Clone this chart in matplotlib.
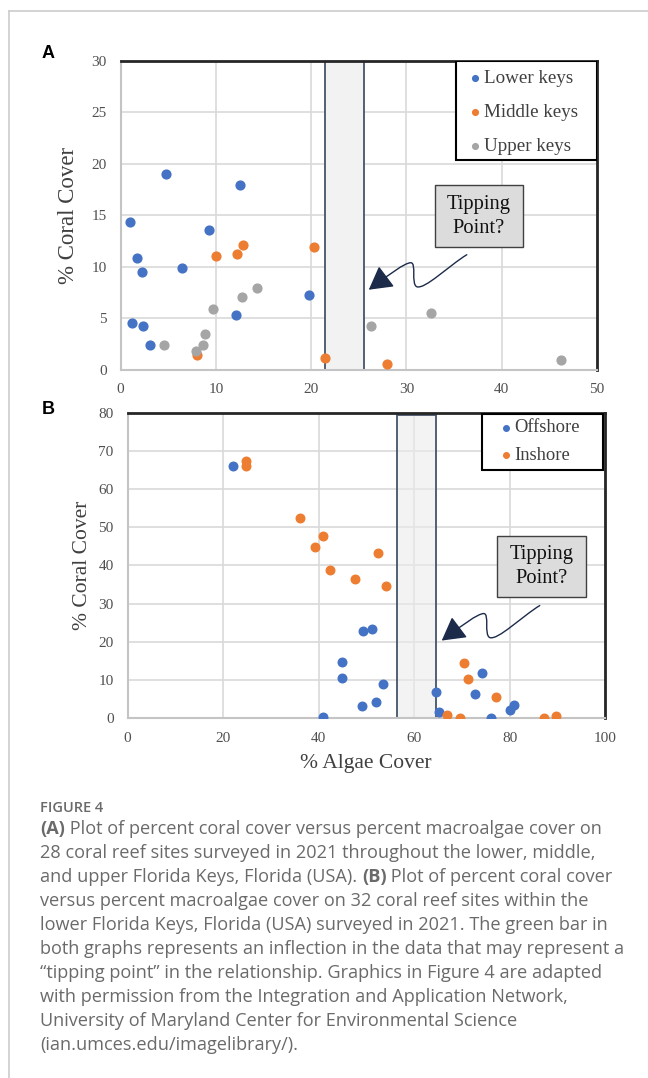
import matplotlib
matplotlib.use('Agg')
import matplotlib.pyplot as plt
from matplotlib.patches import Rectangle, FancyArrowPatch
from matplotlib.path import Path
from matplotlib.lines import Line2D
import numpy as np

# Panel A: coral cover vs algae cover by region of the Keys
lower_x = [4.8, 12.5, 1.0, 9.3, 1.7, 2.3, 6.4, 19.8, 12.1, 1.2, 2.4, 3.1]
lower_y = [19.0, 17.9, 14.3, 13.6, 10.8, 9.5, 9.9, 7.2, 5.3, 4.5, 4.2, 2.4]
middle_x = [10.0, 12.2, 12.9, 20.3, 8.05, 21.5, 28.0]
middle_y = [11.0, 11.2, 12.1, 11.9, 1.4, 1.1, 0.5]
upper_x = [4.6, 7.9, 8.65, 8.9, 9.7, 12.7, 14.3, 26.3, 32.6, 46.2]
upper_y = [2.4, 1.85, 2.4, 3.5, 5.9, 7.1, 7.95, 4.2, 5.5, 0.9]
tip_a = (21.5, 25.5)

# Panel B: offshore vs inshore sites
off_x = [22.0, 49.3, 51.3, 44.9, 44.9, 53.6, 52.0, 49.0, 40.9, 64.5, 65.3, 74.2, 72.8,
         76.2, 80.1, 80.9]
off_y = [66.1, 22.9, 23.4, 14.8, 10.4, 8.8, 4.1, 3.2, 0.35, 6.7, 1.6, 11.9, 6.4,
         0.0, 2.0, 3.3]
in_x = [24.9, 24.9, 36.1, 40.9, 39.3, 52.4, 42.4, 47.7, 54.1, 66.8, 69.6, 70.5, 71.2,
        77.2, 87.2, 89.8]
in_y = [67.4, 66.0, 52.4, 47.7, 44.8, 43.4, 38.8, 36.5, 34.5, 0.8, 0.0, 14.4, 10.1,
        5.6, 0.0, 0.5]
tip_b = (56.5, 64.5)

BLUE = '#4472C4'
ORANGE = '#ED7D31'
GRAY = '#A5A5A5'
SERIF = 'Liberation Serif'

fig = plt.figure(figsize=(6.48, 10.78), dpi=100)
axA = fig.add_axes([0.186, 0.6572, 0.7353, 0.2862])
axB = fig.add_axes([0.1968, 0.3340, 0.7369, 0.2829])


def style_axes(ax, xmax, xstep, ymax, ystep):
    ax.set_xlim(0, xmax)
    ax.set_ylim(0, ymax)
    ax.set_xticks(np.arange(0, xmax + 1, xstep))
    ax.set_yticks(np.arange(0, ymax + 1, ystep))
    ax.grid(True, color='#d9d9d9', lw=1.2, zorder=0)
    ax.set_axisbelow(True)
    ax.tick_params(length=0, labelsize=11, labelcolor='#505050', pad=10)
    for lab in ax.get_xticklabels() + ax.get_yticklabels():
        lab.set_family(SERIF)
    for s in ['top', 'right']:
        ax.spines[s].set_color('#262626')
        ax.spines[s].set_linewidth(2)
    for s in ['left', 'bottom']:
        ax.spines[s].set_color('#c4c4c4')
        ax.spines[s].set_linewidth(1.5)


def legend_box(ax, x0, x1, y0, y1, anchor, size, spacing):
    # excel-like legend: plain black box, small dots
    ax.add_patch(Rectangle((x0, y0), x1 - x0, y1 - y0, transform=ax.transAxes,
                           facecolor='white', edgecolor='black', lw=1.5, zorder=5))
    leg = ax.legend(loc='upper left', bbox_to_anchor=anchor, borderaxespad=0,
                    borderpad=0, prop={'family': SERIF, 'size': size}, frameon=False,
                    markerscale=0.65, handlelength=0.6, handletextpad=0.15,
                    labelspacing=spacing)
    leg.set_zorder(6)
    for t in leg.get_texts():
        t.set_color('#404040')


def squiggle(ax, tip):
    # arrow shape in pixel offsets from the tip (image y pointing down)
    offs = [(98, -35), (80, -24), (56, 0), (48, -3),
            (42, -6), (48, -27), (42, -27),
            (36, -27), (20, -15), (0, 0)]
    tx, ty = ax.transData.transform(tip)
    verts = [(tx + dx, ty - dy) for dx, dy in offs]
    codes = [Path.MOVETO] + [Path.CURVE4] * 9
    arr = FancyArrowPatch(path=Path(verts, codes), transform=None,
                          arrowstyle='-|>,head_length=0.8,head_width=0.45',
                          mutation_scale=18, color='#1c2b4a', lw=1.0, zorder=6)
    fig.add_artist(arr)


def tip_box(ax, x0, x1, y0, y1):
    ax.add_patch(Rectangle((x0, y0), x1 - x0, y1 - y0, transform=ax.transAxes,
                           facecolor='#dcdcdc', edgecolor='#404040', lw=1.0, zorder=5))
    ax.text((x0 + x1) / 2, (y0 + y1) / 2, 'Tipping\nPoint?', transform=ax.transAxes,
            ha='center', va='center', family=SERIF, fontsize=14.8, color='#111111',
            linespacing=1.35, zorder=6)


# ---- Panel A ----
style_axes(axA, 50, 10, 30, 5)
axA.add_patch(Rectangle((tip_a[0], 0), tip_a[1] - tip_a[0], 30, facecolor='#f2f2f2',
                        edgecolor='#44546a', lw=1.3, zorder=2))
axA.scatter(lower_x, lower_y, s=40, color=BLUE, label='Lower keys', zorder=4)
axA.scatter(middle_x, middle_y, s=40, color=ORANGE, label='Middle keys', zorder=4)
axA.scatter(upper_x, upper_y, s=40, color=GRAY, label='Upper keys', zorder=4)
axA.set_ylabel('% Coral Cover', family=SERIF, fontsize=16.5, color='#404040', va='center')
axA.yaxis.set_label_coords(-0.11, 0.5)
legend_box(axA, 0.7035, 1.0, 0.679, 1.0, (0.733, 0.9724), 13.7, 0.89)
tip_box(axA, 0.661, 0.844, 0.397, 0.597)

# ---- Panel B ----
style_axes(axB, 100, 20, 80, 10)
axB.add_patch(Rectangle((tip_b[0], 0), tip_b[1] - tip_b[0], 79.5, facecolor='#ececec',
                        alpha=0.6, edgecolor='none', zorder=2))
axB.add_patch(Rectangle((tip_b[0], 0), tip_b[1] - tip_b[0], 79.5, facecolor='none',
                        edgecolor='#44546a', lw=1.3, zorder=2))
axB.scatter(off_x, off_y, s=38, color=BLUE, label='Offshore', zorder=4)
axB.scatter(in_x, in_y, s=38, color=ORANGE, label='Inshore', zorder=4)
axB.set_ylabel('% Coral Cover', family=SERIF, fontsize=15.5, color='#404040', va='center')
axB.yaxis.set_label_coords(-0.094, 0.5)
axB.set_xlabel('% Algae Cover', family=SERIF, fontsize=15.5, color='#404040', va='center')
axB.xaxis.set_label_coords(0.5, -0.151)
legend_box(axB, 0.7424, 0.9952, 0.8141, 0.9977, (0.7816, 0.9787), 13.3, 0.56)
tip_box(axB, 0.7733, 0.9597, 0.396, 0.598)

squiggle(axA, (26.05, 7.76))
squiggle(axB, (65.8, 20.3))

# panel letters
fig.text(0.0741, 0.9508, 'A', family='Liberation Sans', weight='bold', fontsize=13,
         ha='center', va='center')
fig.text(0.0741, 0.6197, 'B', family='Liberation Sans', weight='bold', fontsize=13,
         ha='center', va='center')

# page frame lines
fig.add_artist(Line2D([0.0139, 0.0139], [0, 0.9898], color='#cccccc', lw=1.2))
fig.add_artist(Line2D([0.0139, 1.0], [0.9898, 0.9898], color='#cccccc', lw=1.2))

# caption
CAP = '#6a6a6a'
CAPFONT = 'Open Sans'
cx = 40 / 648
fig.text(cx, 1 - 808 / 1078, 'FIGURE 4', family=CAPFONT, fontsize=10.5, color=CAP,
         weight='semibold', va='center')
lines = [
    [('(A)', True), (' Plot of percent coral cover versus percent macroalgae cover on', False)],
    [('28 coral reef sites surveyed in 2021 throughout the lower, middle,', False)],
    [('and upper Florida Keys, Florida (USA). ', False), ('(B)', True),
     (' Plot of percent coral cover', False)],
    [('versus percent macroalgae cover on 32 coral reef sites within the', False)],
    [('lower Florida Keys, Florida (USA) surveyed in 2021. The green bar in', False)],
    [('both graphs represents an inflection in the data that may represent a', False)],
    [('\u201ctipping point\u201d in the relationship. Graphics in Figure 4 are adapted', False)],
    [('with permission from the Integration and Application Network,', False)],
    [('University of Maryland Center for Environmental Science', False)],
    [('(ian.umces.edu/imagelibrary/).', False)],
]
for i, parts in enumerate(lines):
    y = 1 - (829 + 24 * i) / 1078
    prev = None
    for txt, bold in parts:
        kw = dict(family=CAPFONT, fontsize=13.1, color=CAP,
                  weight='bold' if bold else 'normal')
        if prev is None:
            prev = fig.text(cx, y, txt, va='center', **kw)
        else:
            prev = axB.annotate(txt, xy=(1, 0), xycoords=prev, va='bottom', ha='left',
                                annotation_clip=False, **kw)

fig.savefig('out.png', dpi=100)
